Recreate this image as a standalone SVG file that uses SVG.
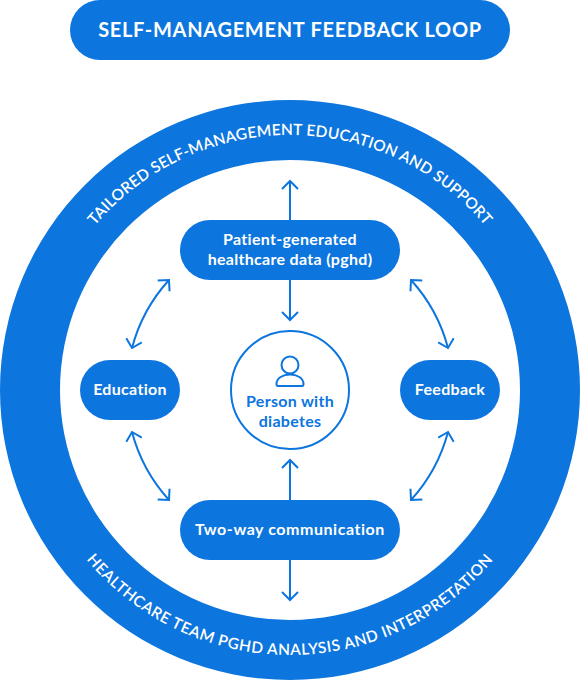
<svg xmlns="http://www.w3.org/2000/svg" width="580" height="680" viewBox="0 0 580 680">
<style>
text{font-family:"Lato","Noto Sans",sans-serif;font-weight:700;text-anchor:middle}
.f{fill:#0c75de}
.w{fill:#fff}
.l{font-size:16px;letter-spacing:.3px}
.r{font-size:15.5px;font-weight:600;fill:#fff}
.c{fill:none;stroke:#0c75de;stroke-width:2}
</style>
<defs>
<marker id="a" markerUnits="userSpaceOnUse" markerWidth="20" markerHeight="20" refX="10" refY="10" orient="auto-start-reverse" viewBox="0 0 20 20"><path d="M2 2L10 10L2 18" fill="none" stroke="#0c75de" stroke-width="2"/></marker>
<path id="top" d="M35 390A255 255 0 0 1 545 390"/>
<path id="bot" d="M25 390A265 265 0 0 0 555 390"/>
</defs>
<g id="ring"><path class="f" fill-rule="evenodd" d="M0 390A290 290 0 1 1 580 390A290 290 0 1 1 0 390ZM60 390A230 230 0 1 0 520 390A230 230 0 1 0 60 390Z"/>
<text class="r" letter-spacing=".2"><textPath href="#top" startOffset="50%">TAILORED SELF-MANAGEMENT EDUCATION AND SUPPORT</textPath></text>
<text class="r" letter-spacing=".55"><textPath href="#bot" startOffset="50%">HEALTHCARE TEAM PGHD ANALYSIS AND INTERPRETATION</textPath></text></g>
<g id="connectors">
<path class="c" marker-end="url(#a)" d="M290 220V181"/>
<path class="c" marker-end="url(#a)" d="M290 280V320"/>
<path class="c" marker-end="url(#a)" d="M290 500V460"/>
<path class="c" marker-end="url(#a)" d="M290 560V600"/>
<path class="c" marker-start="url(#a)" marker-end="url(#a)" d="M132 348A163 163 0 0 1 169 280"/>
<path class="c" marker-start="url(#a)" marker-end="url(#a)" d="M411 280A163 163 0 0 1 448 348"/>
<path class="c" marker-start="url(#a)" marker-end="url(#a)" d="M448 432A163 163 0 0 1 411 500"/>
<path class="c" marker-start="url(#a)" marker-end="url(#a)" d="M169 500A163 163 0 0 1 132 432"/>
</g>
<g id="title"><rect class="f" x="70" y="0" width="440" height="60" rx="30"/><text class="w" x="290" y="37" font-size="20" letter-spacing=".7">SELF-MANAGEMENT FEEDBACK LOOP</text></g>
<g id="pghd"><rect class="f" x="180" y="220" width="220" height="60" rx="30"/><text class="w l" x="290" y="244.500">Patient-generated</text><text class="w l" x="290" y="265">healthcare data (pghd)</text></g>
<g id="education"><rect class="f" x="80" y="360" width="100" height="60" rx="30"/><text class="w l" x="130" y="395">Education</text></g>
<g id="feedback"><rect class="f" x="400" y="360" width="100" height="60" rx="30"/><text class="w l" x="450" y="395">Feedback</text></g>
<g id="communication"><rect class="f" x="180" y="500" width="220" height="60" rx="30"/><text class="w l" x="290" y="535" style="letter-spacing:.55px">Two-way communication</text></g>
<g id="person"><circle cx="290" cy="390" r="59" fill="#fff" stroke="#0c75de" stroke-width="2"/>
<circle class="c" cx="290" cy="365" r="8.500"/><path class="c" d="M278 386H302Q303.500 386 303.500 384C303.500 378 297 374.500 290 374.500S276.500 378 276.500 384Q276.500 386 278 386Z"/>
<text class="f l" x="290" y="406.500">Person with</text><text class="f l" x="290" y="426.500">diabetes</text></g>
</svg>
